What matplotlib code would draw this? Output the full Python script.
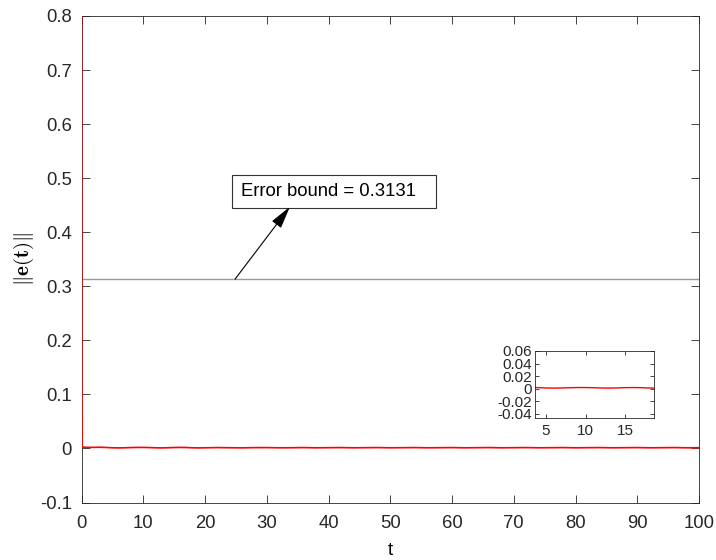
import matplotlib
matplotlib.use("Agg")
import matplotlib.pyplot as plt
from matplotlib.patches import Rectangle

plt.rcParams['font.family'] = ['Liberation Sans', 'DejaVu Sans']
plt.rcParams['mathtext.fontset'] = 'cm'

# data
t_vals = [0, 0.05, 0.1, 0.5, 1, 2, 3, 4, 5, 6, 7, 8, 9, 10, 11, 12, 13, 14, 15, 16, 17, 18, 19, 20,
          22, 24, 26, 28, 30, 32, 34, 36, 38, 40, 42, 44, 46, 48, 50, 52, 54, 56, 58, 60,
          62, 64, 66, 68, 70, 72, 74, 76, 78, 80, 82, 84, 86, 88, 90, 92, 94, 96, 98, 100]
e_vals = [1.0, 0.1, 0.003, 0.0022, 0.002, 0.002, 0.0022, 0.0018, 0.0012, 0.001, 0.0012, 0.0016, 0.0019,
          0.0019, 0.0016, 0.0012, 0.001, 0.0013, 0.0017, 0.0019, 0.0017, 0.0012, 0.001, 0.0012,
          0.0016, 0.0013, 0.0011, 0.0015, 0.0016, 0.0012, 0.0013, 0.0016, 0.0012, 0.0014, 0.0016,
          0.0012, 0.0014, 0.0016, 0.0012, 0.0014, 0.0016, 0.0012, 0.0014, 0.0016, 0.0012, 0.0014,
          0.0016, 0.0012, 0.0014, 0.0016, 0.0012, 0.0014, 0.0016, 0.0012, 0.0014, 0.0016, 0.0012,
          0.0014, 0.0016, 0.0012, 0.0014, 0.0016, 0.0012, 0.0014]
error_bound = 0.3131
annot_text = "Error bound = 0.3131"

axc = (0.15, 0.15, 0.15)
fig = plt.figure(figsize=(7.16, 5.6), dpi=100)
ax = fig.add_axes([81.5/716, (560-502.5)/560, 617.5/716, 486.5/560])
ax.plot(t_vals, e_vals, color='red', lw=1.2, zorder=3)
ax.axhline(error_bound, color=(0.6, 0.6, 0.6), lw=1.0, zorder=2)
ax.set_xlim(0, 100)
ax.set_ylim(-0.1, 0.8)
ax.set_xticks(range(0, 101, 10))
ax.set_yticks([-0.1, 0, 0.1, 0.2, 0.3, 0.4, 0.5, 0.6, 0.7, 0.8])
ax.set_yticklabels(['-0.1', '0', '0.1', '0.2', '0.3', '0.4', '0.5', '0.6', '0.7', '0.8'])
ax.tick_params(direction='in', top=True, right=True, labelsize=13.3, length=6, width=0.6,
               colors=axc)
ax.tick_params(axis='x', pad=9)
ax.tick_params(axis='y', pad=7)
for sp in ax.spines.values():
    sp.set_color(axc)
    sp.set_linewidth(0.6)
ax.set_xlabel('t', fontsize=13.3, labelpad=7)
ax.set_ylabel(r'$\|\mathbf{e(t)}\|$', fontsize=15, labelpad=3)

# annotation text box
ax.add_patch(Rectangle((24.32, 0.4448), 57.4 - 24.32, 0.5059 - 0.4448, fc='white',
                       ec=(0.2, 0.2, 0.2), lw=0.8, zorder=4))
ax.text(25.78, 0.4753, annot_text, fontsize=13.3, ha='left', va='center', zorder=5)
ax.annotate('', xy=(33.76, 0.4472), xytext=(24.86, error_bound),
            arrowprops=dict(arrowstyle='-|>,head_length=1.0,head_width=0.25', color='black',
                            lw=0.8, mutation_scale=14, shrinkA=0, shrinkB=0), zorder=6)

# inset
ins = fig.add_axes([535/716, (560-418.3)/560, 119.3/716, 67.3/560])
ins.plot(t_vals, e_vals, color='red', lw=1.0)
ins.set_xlim(3.6, 18.7)
ins.set_ylim(-0.047, 0.06)
ins.set_xticks([5, 10, 15])
ins.set_yticks([-0.04, -0.02, 0, 0.02, 0.04, 0.06])
ins.set_yticklabels(['-0.04', '-0.02', '0', '0.02', '0.04', '0.06'])
ins.tick_params(direction='in', top=True, right=True, labelsize=11, length=3, width=0.6,
                colors=axc, pad=2)
ins.tick_params(axis='x', pad=4)
for sp in ins.spines.values():
    sp.set_color(axc)
    sp.set_linewidth(0.6)

fig.savefig('out.png', dpi=100)
